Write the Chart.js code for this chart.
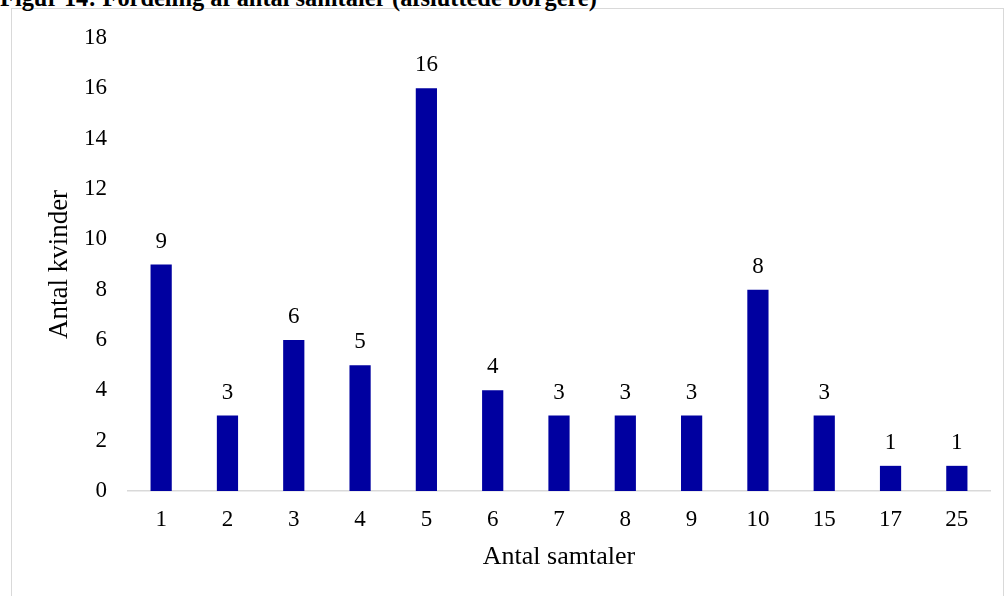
<!DOCTYPE html>
<html>
<head>
<meta charset="utf-8">
<script src="https://cdn.jsdelivr.net/npm/chart.js@4/dist/chart.umd.min.js"></script>
<style>
  html, body { margin: 0; padding: 0; background: #fff; width: 1006px; height: 596px; overflow: hidden; }
  #frame { position: absolute; left: 11px; top: 8px; width: 993px; height: 620px; border: 1px solid #d9d9d9; box-sizing: border-box; }
  #title { position: absolute; left: 0px; top: -14px; font: bold 24.4px "Liberation Serif", "Times New Roman", serif; line-height: 24px; color: #000; white-space: nowrap; }
  #wrap { position: absolute; left: 0; top: 0; width: 1006px; height: 596px; }
</style>
</head>
<body>
<div id="frame"></div>
<div id="title">Figur 14: Fordeling af antal samtaler (afsluttede borgere)</div>
<div id="wrap"><canvas id="c" width="1006" height="596"></canvas></div>
<script>
const categories = ['1', '2', '3', '4', '5', '6', '7', '8', '9', '10', '15', '17', '25'];
const counts = [9, 3, 6, 5, 16, 4, 3, 3, 3, 8, 3, 1, 1];
const yTicks = [0, 2, 4, 6, 8, 10, 12, 14, 16, 18];
const xTitle = 'Antal samtaler';
const yTitle = 'Antal kvinder';

const serif = '"Liberation Serif", "Times New Roman", serif';

const valueLabels = {
  id: 'valueLabels',
  afterDatasetsDraw(chart) {
    const ctx = chart.ctx;
    const meta = chart.getDatasetMeta(0);
    ctx.save();
    ctx.font = '23px ' + serif;
    ctx.fillStyle = '#000';
    ctx.textAlign = 'center';
    ctx.textBaseline = 'alphabetic';
    meta.data.forEach((bar, i) => {
      ctx.fillText(String(chart.data.datasets[0].data[i]), bar.x, bar.y - 17);
    });
    ctx.restore();
  }
};

new Chart(document.getElementById('c'), {
  type: 'bar',
  data: {
    labels: categories,
    datasets: [{
      data: counts,
      backgroundColor: '#0000A0',
      borderWidth: 0,
      barPercentage: 0.32,
      categoryPercentage: 1.0
    }]
  },
  options: {
    responsive: false,
    animation: false,
    devicePixelRatio: 1,
    layout: { padding: { top: 38, right: 16, left: 0, bottom: 0 } },
    plugins: { legend: { display: false }, tooltip: { enabled: false } },
    scales: {
      x: {
        grid: { display: false, drawTicks: false },
        border: { display: true, color: '#d9d9d9', width: 1.5 },
        ticks: { color: '#000', font: { family: serif, size: 23 }, padding: 15, maxRotation: 0 },
        title: { display: true, text: xTitle, color: '#000', font: { family: serif, size: 26 }, padding: { top: 0, bottom: 23 } },
        afterFit(scale) { scale.height = 105; }
      },
      y: {
        min: 0, max: 18,
        afterBuildTicks(scale) { scale.ticks = yTicks.map(v => ({ value: v })); },
        grid: { display: false, drawTicks: false },
        border: { display: false },
        ticks: { color: '#000', font: { family: serif, size: 23 }, padding: 21 },
        title: { display: true, text: yTitle, color: '#000', font: { family: serif, size: 27 }, padding: { top: 44, bottom: 0 } },
        afterFit(scale) { scale.width = 128; }
      }
    }
  },
  plugins: [valueLabels]
});
</script>
</body>
</html>
